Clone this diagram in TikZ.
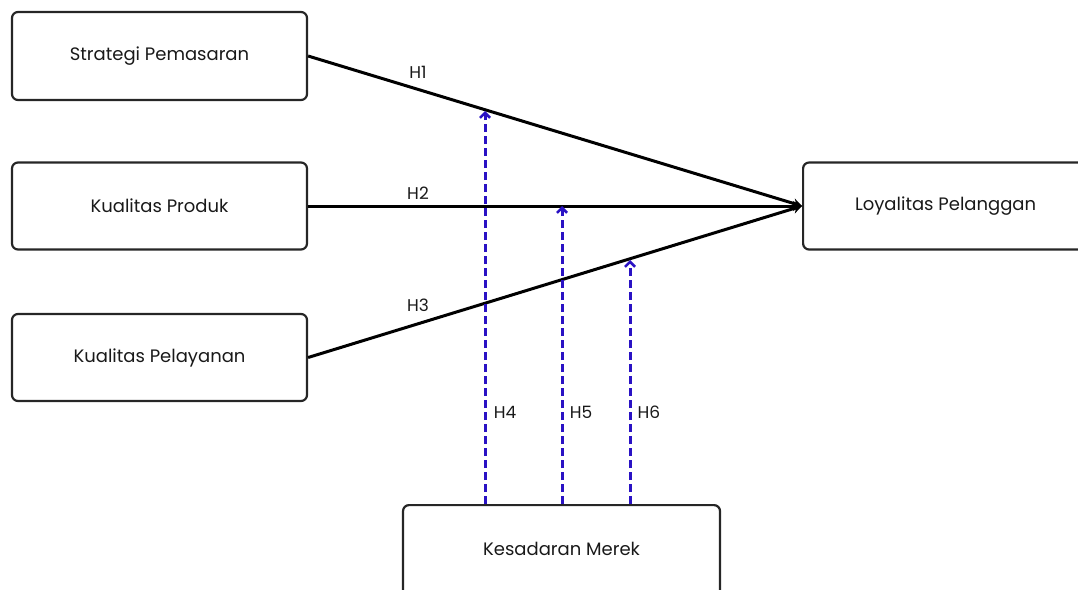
\documentclass[tikz,border=0pt]{standalone}
\usepackage{fontspec}
\setmainfont{Poppins}
\usetikzlibrary{arrows.meta}
\definecolor{dblue}{HTML}{2A12C4}
\tikzset{
  box/.style={draw=black!85, line width=2.2pt, rounded corners=6pt, inner sep=0pt, font=\fontsize{18}{20}\selectfont, text=black!90},
  hyp/.style={line width=3pt, draw=black, -{Stealth[length=9pt,width=10pt]}},
  mod/.style={line width=3pt, draw=dblue, dash pattern=on 8pt off 4pt, -{Straight Barb[length=5pt,width=10pt,line width=2.6pt]}},
  lbl/.style={font=\fontsize{17}{19}\selectfont, text=black!90, inner sep=0pt}
}
\begin{document}
\begin{tikzpicture}[x=1pt,y=-1pt]
\useasboundingbox (0,0) rectangle (1078,589);
\node[box, minimum width=295pt, minimum height=88pt] (sp) at (159.5,56) {Strategi Pemasaran};
\node[box, minimum width=295pt, minimum height=87pt] (kp) at (159.5,206) {Kualitas Produk};
\node[box, minimum width=295pt, minimum height=87pt] (kl) at (159.5,357.5) {Kualitas Pelayanan};
\node[box, minimum width=290pt, minimum height=87pt, anchor=west] (lp) at (802,206) {\hspace*{-5pt}Loyalitas Pelanggan};
\node[box, minimum width=317pt, minimum height=110pt, anchor=north] (km) at (561.5,504) {\raisebox{22pt}{Kesadaran Merek}};
\coordinate (tip) at (802,206);
\draw[hyp] (sp.east) -- (tip);
\draw[hyp] (kp.east) -- (tip);
\draw[hyp] (kl.east) -- (tip);
\coordinate (t4) at (485,111);
\coordinate (t5) at (562,206);
\coordinate (t6) at (630,260);
\coordinate (b4) at (485,504);
\coordinate (b5) at (562,504);
\coordinate (b6) at (630,504);
\draw[mod] (b4) -- (t4);
\draw[mod] (b5) -- (t5);
\draw[mod] (b6) -- (t6);
\node[lbl] (h1) at (418,72) {H1};
\node[lbl] (h2) at (418,193) {H2};
\node[lbl] (h3) at (418,305) {H3};
\node[lbl] (h4) at (505,412) {H4};
\node[lbl] (h5) at (581,412) {H5};
\node[lbl] (h6) at (649,412) {H6};
\end{tikzpicture}
\end{document}
